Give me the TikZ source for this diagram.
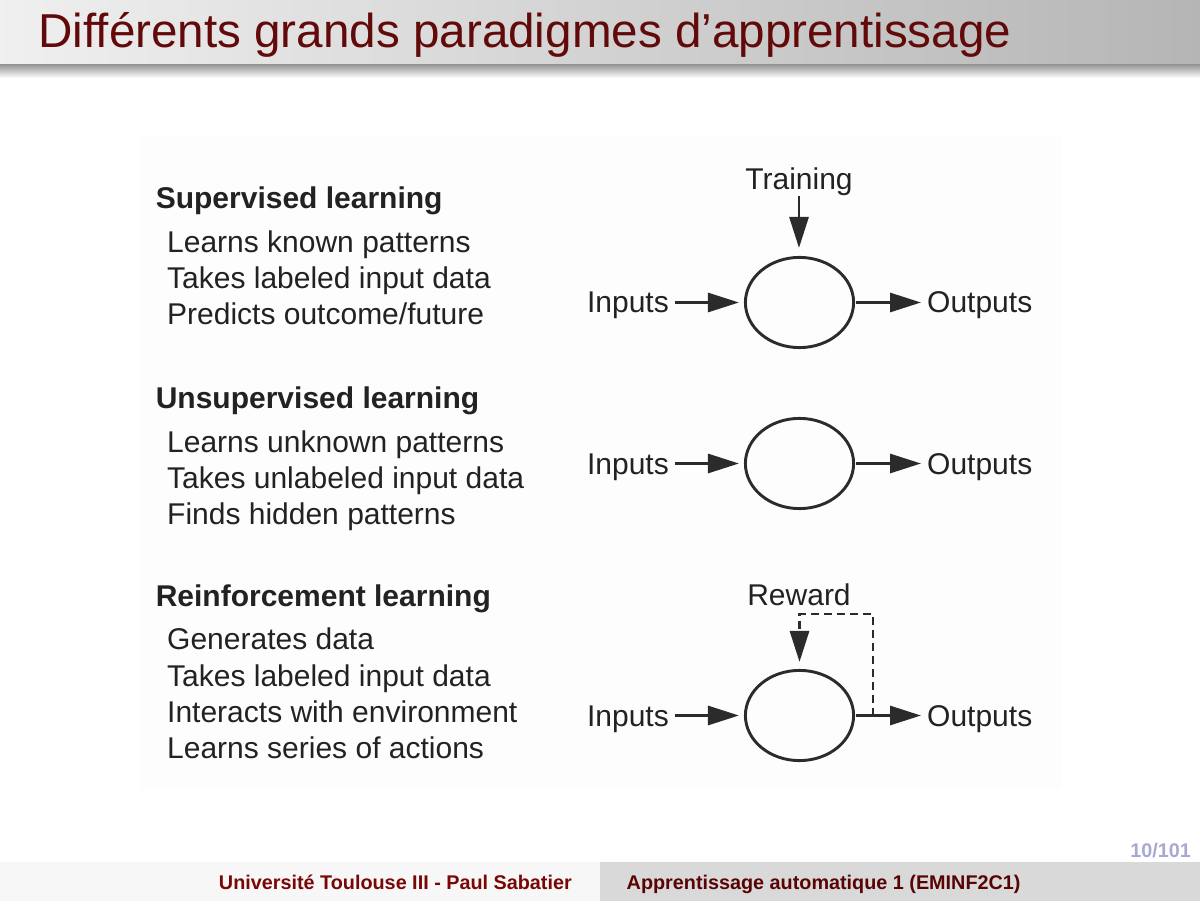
\documentclass[tikz,border=0pt]{standalone}
\usepackage{fontspec}
\setmainfont{Liberation Sans}
\usetikzlibrary{arrows.meta,shapes.geometric}

\definecolor{titlered}{HTML}{620A0A}
\definecolor{footred}{HTML}{7A0606}
\definecolor{footdark}{HTML}{580404}
\definecolor{pagenum}{HTML}{A8A8D2}
\definecolor{ink}{HTML}{222222}
\definecolor{stroke}{HTML}{2B2B2B}

\tikzset{
  heading/.style={anchor=base west, inner sep=0pt, text=ink,
    font=\fontsize{30}{36}\selectfont\bfseries},
  item/.style={anchor=base west, inner sep=0pt, text=ink,
    font=\fontsize{30}{36}\selectfont},
  lbl/.style={inner sep=0pt, text=ink, font=\fontsize{30}{36}\selectfont},
  unit/.style={draw=stroke, line width=2.9pt, ellipse,
    minimum width=108.2pt, minimum height=90.2pt, inner sep=0pt},
  flow/.style={draw=stroke, line width=2.9pt,
    -{Triangle[length=31pt, width=19pt]}},
  feedback/.style={flow, dash pattern=on 8pt off 5pt},
  foot/.style={inner sep=0pt, font=\fontsize{19.8}{23}\selectfont\bfseries}
}

\begin{document}
\begin{tikzpicture}[x=1pt, y=-1pt]
\useasboundingbox (0,0) rectangle (1200,901);

% slide frame: title bar with its shadow, footer bands
\shade[left color=black!6, right color=black!29] (0,0) rectangle (1200,65);
\shade[top color=black!40, bottom color=white] (0,65) rectangle (1200,78);
\fill[black!3] (0,862) rectangle (600,901);
\fill[black!15] (600,862) rectangle (1200,901);

\node[anchor=base west, inner sep=0pt, text=titlered,
  font=\fontsize{47.6}{56}\selectfont] (title) at (38.3,48)
  {Différents grands paradigmes d’apprentissage};

\node[foot, anchor=base east, text=footred] (univ) at (572,889)
  {Université Toulouse III - Paul Sabatier};
\node[foot, anchor=base west, text=footdark] (course) at (626.5,889)
  {Apprentissage automatique 1 (EMINF2C1)};
\node[foot, anchor=base east, text=pagenum] (page) at (1191,857) {10/101};

% light panel behind the content
\fill[black!0.7] (140,135) rectangle (1062,789);

% ---- left column: descriptions
\node[heading] (hSup) at (155.6,209) {Supervised learning};
\node[item] (s1) at (167,253) {Learns known patterns};
\node[item] (s2) at (167,289) {Takes labeled input data};
\node[item] (s3) at (167,325) {Predicts outcome/future};

\node[heading] (hUns) at (155.6,408) {Unsupervised learning};
\node[item] (u1) at (167,452) {Learns unknown patterns};
\node[item] (u2) at (167,488) {Takes unlabeled input data};
\node[item] (u3) at (167,524) {Finds hidden patterns};

\node[heading] (hRei) at (155.6,606) {Reinforcement learning};
\node[item] (r1) at (167,649) {Generates data};
\node[item] (r2) at (167,686) {Takes labeled input data};
\node[item] (r3) at (167,722) {Interacts with environment};
\node[item] (r4) at (167,758) {Learns series of actions};

% ---- right column: block diagrams
% supervised
\node[unit] (sup) at (799.5,302.5) {};
\node[lbl, anchor=base east] (supIn) at (669,313) {Inputs};
\node[lbl, anchor=base west] (supOut) at (927,313) {Outputs};
\node[lbl, anchor=base] (train) at (799,190) {Training};
\draw[flow, shorten <=6pt, shorten >=5pt] (supIn.east |- sup.west) -- (sup.west);
\draw[flow, shorten <=1pt, shorten >=6pt] (sup.east) -- (supOut.west |- sup.east);
\draw[flow, shorten >=8pt] (train.south) -- (train.south |- sup.north);

% unsupervised
\node[unit] (uns) at (799.5,463.5) {};
\node[lbl, anchor=base east] (unsIn) at (669,474) {Inputs};
\node[lbl, anchor=base west] (unsOut) at (927,474) {Outputs};
\draw[flow, shorten <=6pt, shorten >=5pt] (unsIn.east |- uns.west) -- (uns.west);
\draw[flow, shorten <=1pt, shorten >=6pt] (uns.east) -- (unsOut.west |- uns.east);

% reinforcement
\node[unit] (rei) at (799.5,715.5) {};
\node[lbl, anchor=base east] (reiIn) at (669,726) {Inputs};
\node[lbl, anchor=base west] (reiOut) at (927,726) {Outputs};
\node[lbl, anchor=base] (reward) at (799,605) {Reward};
\draw[flow, shorten <=6pt, shorten >=5pt] (reiIn.east |- rei.west) -- (rei.west);
\draw[flow, shorten <=1pt, shorten >=6pt] (rei.east) -- (reiOut.west |- rei.east);
\coordinate (tap) at (873,715.5);
\coordinate (loop) at (873,614);
\draw[feedback, shorten >=7pt] (tap) -- (loop) -| (rei.north);

\end{tikzpicture}
\end{document}
